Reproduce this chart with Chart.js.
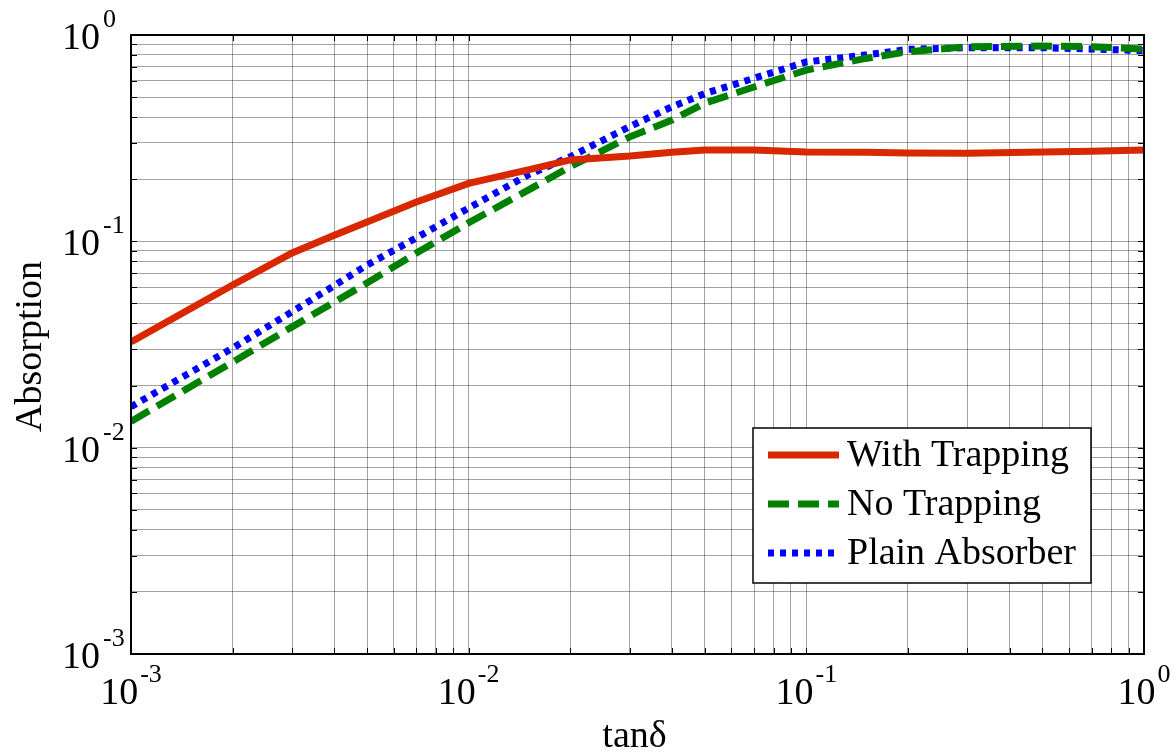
<!DOCTYPE html>
<html>
<head>
<meta charset="utf-8">
<title>Absorption vs tan delta</title>
<script src="https://cdn.jsdelivr.net/npm/chart.js@4.4.1/dist/chart.umd.min.js"></script>
<style>
  html, body { margin: 0; padding: 0; background: #fff; }
  #wrap { width: 1174px; height: 752px; }
</style>
</head>
<body>
<div id="wrap"><canvas id="chart" width="1174" height="752"></canvas></div>
<script>
  // values
  const tanDelta = [0.001, 0.002, 0.003, 0.004, 0.005, 0.007, 0.01, 0.015, 0.02, 0.03,
    0.04, 0.05, 0.07, 0.1, 0.15, 0.2, 0.3, 0.5, 0.7, 1.0];
  const withTrapping = [0.0325, 0.0614, 0.0878, 0.107, 0.124, 0.155, 0.191, 0.222, 0.248, 0.259,
    0.27, 0.277, 0.277, 0.271, 0.27, 0.268, 0.267, 0.271, 0.273, 0.277];
  const noTrapping = [0.0134, 0.026, 0.0385, 0.0508, 0.0628, 0.0877, 0.123, 0.177, 0.23, 0.321,
    0.387, 0.467, 0.56, 0.676, 0.77, 0.83, 0.878, 0.884, 0.878, 0.855];
  const plainAbsorber = [0.0158, 0.0304, 0.0456, 0.061, 0.0767, 0.104, 0.145, 0.21, 0.257, 0.36,
    0.449, 0.52, 0.617, 0.74, 0.80, 0.852, 0.868, 0.868, 0.855, 0.84];

  const seriesNames = ['With Trapping', 'No Trapping', 'Plain Absorber'];
  const xDecades = [-3, -2, -1, 0];
  const yDecades = [-3, -2, -1, 0];
  const minorSteps = [1, 2, 3, 4, 5, 6, 7, 8, 9];
  const xTitle = 'tanδ';
  const yTitle = 'Absorption';

  const FONT = '"Liberation Serif", "Times New Roman", serif';
  const GRID = 'rgba(0,0,0,0.36)';

  function logTicks(decades) {
    const out = [];
    decades.forEach((e, i) => {
      if (i === decades.length - 1) { out.push({ value: Math.pow(10, e) }); return; }
      minorSteps.forEach((m) => out.push({ value: m * Math.pow(10, e) }));
    });
    return out;
  }

  const styles = [
    { color: '#d82800', dash: [] },
    { color: '#008000', dash: [21, 9] },
    { color: '#0000ff', dash: [6, 6] },
  ];
  const values = [withTrapping, noTrapping, plainAbsorber];

  const overlay = {
    id: 'overlay',
    afterDraw(chart) {
      const { ctx, chartArea: a, scales } = chart;
      const xs = scales.x;
      const ys = scales.y;
      ctx.save();

      // inward tick marks on all four sides
      ctx.strokeStyle = '#000';
      ctx.lineWidth = 1;
      ctx.beginPath();
      xs.ticks.forEach((t) => {
        const px = Math.round(xs.getPixelForValue(t.value)) + 0.5;
        ctx.moveTo(px, a.bottom); ctx.lineTo(px, a.bottom - 6);
        ctx.moveTo(px, a.top); ctx.lineTo(px, a.top + 6);
      });
      ys.ticks.forEach((t) => {
        const py = Math.round(ys.getPixelForValue(t.value)) + 0.5;
        ctx.moveTo(a.left, py); ctx.lineTo(a.left + 6, py);
        ctx.moveTo(a.right, py); ctx.lineTo(a.right - 6, py);
      });
      ctx.stroke();

      // axes box
      ctx.lineWidth = 2;
      ctx.strokeRect(a.left, a.top, a.right - a.left, a.bottom - a.top);

      // tick labels with superscript exponents
      ctx.fillStyle = '#000';
      ctx.textBaseline = 'alphabetic';
      const baseFont = '38px ' + FONT;
      const expFont = '26px ' + FONT;
      xDecades.forEach((e) => {
        const px = xs.getPixelForValue(Math.pow(10, e));
        ctx.font = baseFont;
        const w1 = ctx.measureText('10').width;
        ctx.font = expFont;
        const w2 = ctx.measureText(String(e)).width;
        const x0 = px - (w1 + w2 + 2) / 2;
        ctx.font = baseFont;
        ctx.textAlign = 'left';
        ctx.fillText('10', x0, a.bottom + 50);
        ctx.font = expFont;
        ctx.fillText(String(e), x0 + w1 + 2, a.bottom + 28);
      });
      yDecades.forEach((e) => {
        const py = ys.getPixelForValue(Math.pow(10, e));
        ctx.font = baseFont;
        ctx.textAlign = 'right';
        ctx.fillText('10', a.left - 31, py + 14);
        ctx.font = expFont;
        ctx.textAlign = 'left';
        ctx.fillText(String(e), a.left - 28, py - 8);
      });

      // axis titles
      ctx.font = '38px ' + FONT;
      ctx.textAlign = 'center';
      ctx.fillText(xTitle, (a.left + a.right) / 2 - 3, 747);
      ctx.save();
      ctx.translate(41, (a.top + a.bottom) / 2 + 2);
      ctx.rotate(-Math.PI / 2);
      ctx.fillText(yTitle, 0, 0);
      ctx.restore();

      // legend box inside the plot
      const lx = 753, ly = 428, lw = 338, lh = 155;
      ctx.fillStyle = '#fff';
      ctx.fillRect(lx, ly, lw, lh);
      ctx.strokeStyle = '#000';
      ctx.lineWidth = 1.5;
      ctx.strokeRect(lx, ly, lw, lh);
      chart.data.datasets.forEach((ds, i) => {
        const cy = 455 + i * 49;
        ctx.strokeStyle = ds.borderColor;
        ctx.lineWidth = 7;
        ctx.lineCap = 'butt';
        ctx.setLineDash(ds.borderDash || []);
        ctx.beginPath();
        ctx.moveTo(768, cy);
        ctx.lineTo(839, cy);
        ctx.stroke();
        ctx.setLineDash([]);
        ctx.fillStyle = '#000';
        ctx.font = '38px ' + FONT;
        ctx.textAlign = 'left';
        ctx.textBaseline = 'middle';
        ctx.fillText(ds.label, 847, cy + 1);
      });
      ctx.restore();
    },
  };

  new Chart(document.getElementById('chart'), {
    type: 'line',
    data: {
      datasets: seriesNames.map((name, i) => ({
        label: name,
        data: tanDelta.map((x, j) => ({ x, y: values[i][j] })),
        borderColor: styles[i].color,
        backgroundColor: styles[i].color,
        borderDash: styles[i].dash,
        borderWidth: 7,
        borderCapStyle: 'butt',
        pointRadius: 0,
        tension: 0,
        fill: false,
      })),
    },
    options: {
      responsive: false,
      animation: false,
      devicePixelRatio: 1,
      layout: { padding: { top: 35, right: 30, left: 0, bottom: 0 } },
      plugins: { legend: { display: false }, tooltip: { enabled: false } },
      scales: {
        x: {
          type: 'logarithmic',
          min: 0.001,
          max: 1,
          afterBuildTicks: (s) => { s.ticks = logTicks(xDecades); },
          afterFit: (s) => { s.height = 98; },
          ticks: { display: false },
          grid: { color: GRID, lineWidth: 1, drawTicks: false },
          border: { display: false },
        },
        y: {
          type: 'logarithmic',
          min: 0.001,
          max: 1,
          afterBuildTicks: (s) => { s.ticks = logTicks(yDecades); },
          afterFit: (s) => { s.width = 131; },
          ticks: { display: false },
          grid: { color: GRID, lineWidth: 1, drawTicks: false },
          border: { display: false },
        },
      },
    },
    plugins: [overlay],
  });
</script>
</body>
</html>
